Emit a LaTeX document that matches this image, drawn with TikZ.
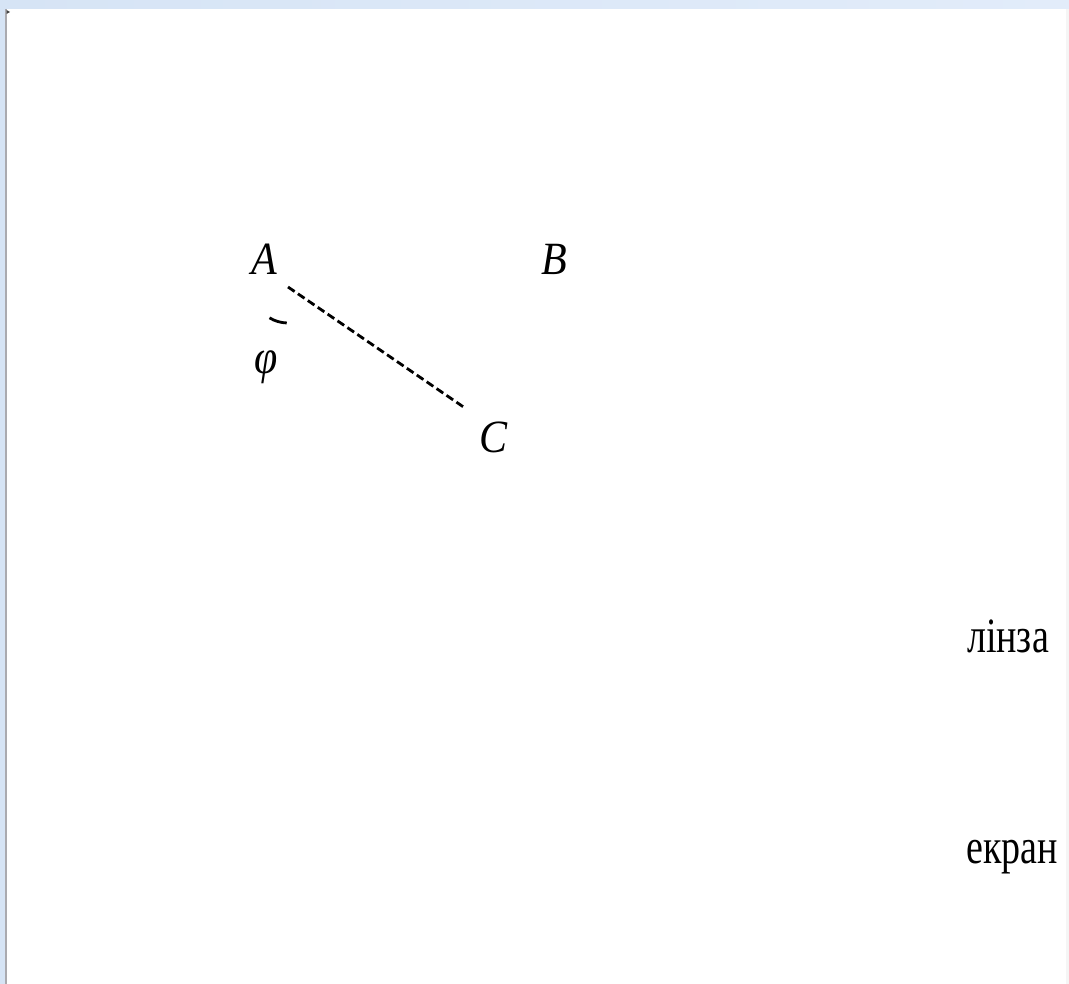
\documentclass[tikz,border=0pt]{standalone}
\usepackage{fontspec}
\setmainfont{Liberation Serif}
\definecolor{frameblue}{RGB}{214,228,245}
\definecolor{framebluelight}{RGB}{226,236,250}
\definecolor{frameline}{RGB}{170,170,175}
\newcommand{\vstretch}[2]{\scalebox{1}[#1]{#2}}
\begin{document}
\begin{tikzpicture}[x=1pt,y=-1pt,
  lbl/.style={inner sep=0pt,anchor=base,font=\fontsize{42}{42}\selectfont\itshape},
  word/.style={inner sep=0pt,anchor=base,font=\fontsize{38}{38}\selectfont}]
\useasboundingbox (0,0) rectangle (1069,984);
\fill[white] (0,0) rectangle (1069,984);
\shade[left color=frameblue,right color=framebluelight] (0,0) rectangle (1069,9);
\fill[frameblue] (0,9) rectangle (5,984);
\fill[frameline] (5,9) rectangle (6.5,984);
\fill[gray!8] (1066,9) rectangle (1069,984);
\fill[black!75] (6.5,10) -- (10,12) -- (6.5,14) -- cycle;
\node[lbl] (A) at (264.5,275) {\vstretch{1.1}{A}};
\node[lbl] (B) at (554,275) {\vstretch{1.1}{B}};
\node[lbl] (C) at (494,452) {\vstretch{1.1}{C}};
\node[lbl] (phi) at (266,374) {\vstretch{1.15}{φ}};
\coordinate (s) at (288,287);
\coordinate (e) at (465,408);
\draw[line width=2.8pt,dash pattern=on 8pt off 4pt] (s) -- (e);
\draw[line width=2.8pt] (s) ++(121:36) arc[start angle=121,end angle=92,radius=36];
\node[word] (lens) at (1008,652) {\vstretch{1.3}{лінза}};
\node[word] (screen) at (1012,863) {\vstretch{1.3}{екран}};
\end{tikzpicture}
\end{document}
